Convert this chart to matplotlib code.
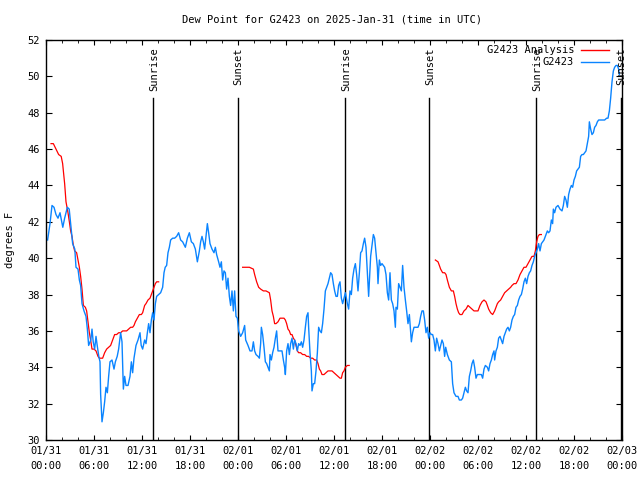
import matplotlib
matplotlib.use("Agg")
import matplotlib.pyplot as plt

plt.rcParams['font.family'] = ['DejaVu Sans Mono']
plt.rcParams['font.size'] = 7.5

title = "Dew Point for G2423 on 2025-Jan-31 (time in UTC)"

# hours since 01/31 00:00 UTC
tick_hours = list(range(0, 73, 6))
tick_labels = ["01/31\n00:00", "01/31\n06:00", "01/31\n12:00", "01/31\n18:00",
               "02/01\n00:00", "02/01\n06:00", "02/01\n12:00", "02/01\n18:00",
               "02/02\n00:00", "02/02\n06:00", "02/02\n12:00", "02/02\n18:00",
               "02/03\n00:00"]

sun_hours = [13.42, 23.96, 37.42, 47.93, 61.3, 71.85]
sun_names = ["Sunrise", "Sunset", "Sunrise", "Sunset", "Sunrise", "Sunset"]

# analysis (red), three runs
analysis_1 = [
    (0.63, 46.3), (0.92, 46.3), (1.25, 46.0), (1.58, 45.7), (1.9, 45.6), (2.08, 45.2),
    (2.17, 44.8), (2.33, 44.1), (2.5, 43.1), (2.75, 42.5), (2.92, 42.0), (3.08, 41.5),
    (3.25, 41.2), (3.42, 40.7), (3.58, 40.4), (3.83, 40.3), (4.0, 39.9), (4.17, 39.5),
    (4.33, 39.0), (4.5, 38.3), (4.67, 37.4), (4.92, 37.3), (5.08, 37.1), (5.25, 36.5),
    (5.42, 35.9), (5.58, 35.5), (5.75, 35.0), (6.0, 35.0), (6.25, 34.9), (6.5, 34.6),
    (6.67, 34.5), (6.83, 34.5), (7.08, 34.5), (7.33, 34.8), (7.58, 35.0), (7.83, 35.1),
    (8.08, 35.2), (8.33, 35.5), (8.58, 35.8), (8.83, 35.8), (9.08, 35.9), (9.33, 35.9),
    (9.58, 36.0), (9.83, 36.0), (10.08, 36.0), (10.33, 36.1), (10.58, 36.2), (10.83, 36.2),
    (11.0, 36.3), (11.17, 36.5), (11.42, 36.7), (11.67, 36.9), (11.92, 36.9), (12.08, 37.0),
    (12.33, 37.4), (12.5, 37.5), (12.75, 37.7), (13.0, 37.8), (13.25, 38.1), (13.5, 38.4),
    (13.67, 38.6), (13.83, 38.7), (14.08, 38.7),
]
analysis_2 = [
    (24.58, 39.5), (25.0, 39.5), (25.42, 39.5), (25.92, 39.4), (26.08, 39.1), (26.33, 38.7),
    (26.58, 38.4), (26.83, 38.3), (27.17, 38.2), (27.5, 38.2), (27.92, 38.1), (28.08, 37.7),
    (28.25, 37.1), (28.42, 36.8), (28.58, 36.4), (28.75, 36.4), (29.0, 36.5), (29.25, 36.7),
    (29.5, 36.7), (29.75, 36.7), (29.92, 36.6), (30.08, 36.4), (30.25, 36.1), (30.42, 36.0),
    (30.58, 35.8), (30.75, 35.8), (30.92, 35.6), (31.08, 35.5), (31.25, 35.2), (31.42, 34.9),
    (31.58, 34.8), (31.83, 34.8), (32.08, 34.7), (32.33, 34.7), (32.58, 34.6), (32.83, 34.6),
    (33.08, 34.5), (33.33, 34.5), (33.58, 34.4), (33.83, 34.4), (34.0, 34.2), (34.17, 33.9),
    (34.33, 33.8), (34.5, 33.6), (34.75, 33.6), (35.0, 33.7), (35.25, 33.8), (35.5, 33.8),
    (35.75, 33.8), (36.0, 33.7), (36.25, 33.6), (36.5, 33.5), (36.75, 33.4), (36.92, 33.4),
    (37.08, 33.7), (37.25, 33.8), (37.42, 34.0), (37.67, 34.1), (37.9, 34.1),
]
analysis_3 = [
    (48.67, 39.9), (49.0, 39.8), (49.17, 39.6), (49.33, 39.4), (49.58, 39.2), (49.83, 39.2),
    (50.0, 39.1), (50.17, 38.8), (50.42, 38.4), (50.67, 38.2), (50.92, 38.2), (51.08, 37.9),
    (51.25, 37.5), (51.42, 37.2), (51.58, 37.0), (51.75, 36.9), (52.0, 36.9), (52.25, 37.1),
    (52.5, 37.2), (52.75, 37.4), (53.0, 37.3), (53.25, 37.2), (53.5, 37.1), (53.75, 37.1),
    (54.0, 37.1), (54.25, 37.4), (54.5, 37.6), (54.75, 37.7), (55.0, 37.6), (55.17, 37.4),
    (55.33, 37.2), (55.58, 37.0), (55.83, 36.9), (56.08, 37.1), (56.25, 37.3), (56.42, 37.5),
    (56.58, 37.6), (56.83, 37.7), (57.08, 37.9), (57.33, 38.1), (57.58, 38.2), (57.83, 38.3),
    (58.08, 38.4), (58.25, 38.5), (58.5, 38.6), (58.75, 38.6), (59.0, 38.8), (59.25, 39.1),
    (59.5, 39.3), (59.75, 39.5), (60.0, 39.5), (60.25, 39.7), (60.5, 39.9), (60.75, 40.1),
    (61.0, 40.1), (61.17, 40.4), (61.33, 40.9), (61.5, 41.2), (61.67, 41.3), (61.92, 41.3),
]

# station observations (blue)
g2423 = [
    (0.2, 41.0), (0.5, 41.9), (0.75, 42.9), (1.0, 42.8), (1.25, 42.4), (1.5, 42.2),
    (1.75, 42.5), (2.1, 41.7), (2.33, 42.2), (2.67, 42.8), (2.9, 42.7), (3.17, 41.5),
    (3.33, 40.8), (3.6, 40.5), (3.75, 39.5), (4.0, 39.4), (4.17, 38.8), (4.33, 38.5),
    (4.5, 37.5), (4.75, 37.1), (5.0, 36.8), (5.17, 36.1), (5.33, 35.2), (5.6, 35.5),
    (5.75, 36.1), (5.9, 35.4), (6.08, 35.0), (6.25, 35.7), (6.4, 35.2), (6.6, 34.6),
    (6.75, 34.3), (6.83, 32.5), (7.0, 31.0), (7.17, 31.5), (7.33, 32.1), (7.5, 32.9),
    (7.67, 32.6), (7.83, 33.5), (8.0, 34.3), (8.25, 34.4), (8.5, 33.9), (8.67, 34.3),
    (8.9, 34.6), (9.08, 35.0), (9.33, 35.9), (9.5, 35.4), (9.67, 32.8), (9.83, 33.5),
    (10.0, 33.0), (10.25, 33.0), (10.5, 33.5), (10.67, 34.3), (10.83, 33.7), (11.0, 34.5),
    (11.25, 35.2), (11.5, 35.5), (11.75, 35.9), (11.9, 35.2), (12.08, 35.0), (12.33, 35.5),
    (12.5, 35.3), (12.67, 35.9), (12.83, 36.4), (13.0, 35.9), (13.17, 36.6), (13.33, 37.0),
    (13.5, 36.6), (13.67, 37.5), (13.83, 37.9), (14.08, 38.0), (14.33, 38.1), (14.58, 38.4),
    (14.75, 39.2), (14.9, 39.5), (15.08, 39.6), (15.25, 40.3), (15.42, 40.6), (15.58, 41.0),
    (15.83, 41.1), (16.08, 41.1), (16.33, 41.2), (16.58, 41.4), (16.83, 41.0), (17.08, 40.9),
    (17.42, 40.6), (17.67, 41.1), (17.92, 41.4), (18.17, 40.9), (18.42, 40.8), (18.67, 40.5),
    (18.92, 39.8), (19.17, 40.4), (19.33, 40.9), (19.5, 41.2), (19.67, 40.9), (19.83, 40.5),
    (20.0, 41.2), (20.17, 41.9), (20.33, 41.4), (20.5, 40.8), (20.75, 40.5), (21.0, 40.3),
    (21.17, 40.6), (21.33, 40.2), (21.58, 39.8), (21.75, 39.5), (21.92, 39.8), (22.08, 38.8),
    (22.25, 39.3), (22.42, 39.2), (22.58, 38.3), (22.75, 38.9), (22.92, 37.9), (23.08, 37.4),
    (23.25, 38.2), (23.42, 37.1), (23.58, 38.2), (23.75, 36.8), (23.92, 36.7), (24.08, 36.0),
    (24.33, 35.7), (24.58, 35.9), (24.83, 36.3), (24.96, 35.5), (25.25, 35.2), (25.5, 34.9),
    (25.75, 34.9), (25.92, 35.4), (26.08, 34.9), (26.25, 34.7), (26.5, 34.6), (26.67, 34.5),
    (26.83, 35.3), (26.92, 36.2), (27.08, 35.8), (27.25, 35.1), (27.42, 34.3), (27.58, 34.2),
    (27.75, 34.0), (27.92, 33.8), (28.0, 34.7), (28.17, 34.4), (28.33, 34.8), (28.5, 35.1),
    (28.67, 35.6), (28.83, 36.0), (29.0, 34.9), (29.25, 34.9), (29.5, 34.9), (29.67, 34.4),
    (29.83, 34.0), (29.92, 33.6), (30.08, 34.9), (30.25, 35.3), (30.42, 34.7), (30.58, 35.3),
    (30.75, 35.6), (30.92, 35.0), (31.08, 35.5), (31.25, 35.3), (31.42, 34.9), (31.58, 35.3),
    (31.75, 35.2), (31.92, 35.4), (32.08, 35.1), (32.25, 35.5), (32.42, 36.2), (32.58, 36.8),
    (32.75, 37.0), (32.83, 36.2), (33.0, 34.8), (33.17, 33.8), (33.25, 32.7), (33.42, 33.1),
    (33.58, 33.1), (33.75, 33.8), (33.92, 34.8), (34.08, 36.2), (34.25, 36.0), (34.42, 35.9),
    (34.58, 36.4), (34.75, 37.2), (34.92, 38.2), (35.08, 38.4), (35.25, 38.6), (35.42, 38.9),
    (35.58, 39.2), (35.75, 39.1), (35.92, 38.6), (36.08, 38.2), (36.25, 37.9), (36.42, 37.9),
    (36.58, 38.5), (36.75, 38.7), (36.92, 37.8), (37.08, 37.5), (37.25, 37.8), (37.42, 38.1),
    (37.5, 37.9), (37.67, 37.5), (37.83, 37.2), (38.0, 38.2), (38.17, 38.0), (38.33, 38.9),
    (38.5, 39.4), (38.67, 39.7), (38.83, 39.1), (39.0, 38.2), (39.17, 39.2), (39.33, 40.3),
    (39.5, 40.4), (39.67, 40.8), (39.83, 41.1), (40.0, 40.6), (40.17, 39.2), (40.33, 37.9),
    (40.42, 38.7), (40.58, 40.1), (40.75, 40.7), (40.92, 41.3), (41.08, 41.1), (41.25, 40.3),
    (41.42, 39.5), (41.5, 38.6), (41.67, 39.9), (41.83, 39.6), (42.0, 39.7), (42.17, 39.6),
    (42.33, 39.5), (42.5, 39.1), (42.67, 38.1), (42.83, 37.7), (43.0, 39.2), (43.17, 37.7),
    (43.33, 37.5), (43.5, 37.1), (43.67, 36.2), (43.75, 37.3), (43.92, 37.2), (44.08, 38.6),
    (44.25, 38.4), (44.42, 38.2), (44.58, 39.6), (44.75, 38.4), (44.92, 37.7), (45.08, 37.1),
    (45.25, 36.4), (45.42, 36.9), (45.58, 35.9), (45.67, 35.4), (45.83, 35.9), (46.0, 36.2),
    (46.25, 36.2), (46.5, 36.2), (46.67, 36.4), (46.83, 36.8), (47.0, 37.1), (47.17, 37.1),
    (47.33, 36.6), (47.5, 35.9), (47.67, 36.2), (47.83, 35.6), (48.0, 35.9), (48.17, 35.8),
    (48.33, 35.8), (48.5, 35.5), (48.67, 34.9), (48.83, 35.6), (49.0, 35.3), (49.17, 34.9),
    (49.33, 35.2), (49.5, 35.5), (49.67, 35.3), (49.83, 34.6), (49.96, 35.1), (50.17, 34.7),
    (50.42, 34.4), (50.67, 34.3), (50.83, 33.1), (51.0, 32.6), (51.25, 32.4), (51.5, 32.4),
    (51.67, 32.2), (51.92, 32.2), (52.08, 32.3), (52.25, 32.6), (52.42, 32.9), (52.58, 32.7),
    (52.75, 32.6), (52.92, 33.5), (53.08, 33.8), (53.25, 34.2), (53.42, 34.4), (53.58, 34.0),
    (53.75, 33.4), (53.92, 33.6), (54.17, 33.6), (54.42, 33.6), (54.58, 33.4), (54.75, 33.9),
    (54.92, 34.1), (55.17, 34.0), (55.33, 33.8), (55.5, 34.2), (55.67, 34.4), (55.83, 34.7),
    (56.0, 34.9), (56.08, 34.4), (56.25, 34.9), (56.42, 35.1), (56.58, 35.6), (56.75, 35.7),
    (56.92, 35.5), (57.08, 35.3), (57.25, 35.7), (57.42, 35.9), (57.58, 36.1), (57.75, 36.2),
    (57.92, 36.0), (58.08, 36.2), (58.25, 36.6), (58.42, 36.8), (58.58, 36.9), (58.75, 37.3),
    (58.92, 37.4), (59.08, 37.7), (59.25, 37.9), (59.42, 38.0), (59.58, 38.3), (59.75, 38.7),
    (59.92, 38.9), (60.08, 38.6), (60.25, 39.0), (60.42, 39.2), (60.58, 39.3), (60.75, 39.6),
    (60.92, 39.8), (61.08, 40.1), (61.25, 40.3), (61.42, 40.5), (61.58, 40.8), (61.75, 40.4),
    (61.92, 40.8), (62.08, 40.9), (62.25, 41.0), (62.42, 41.2), (62.67, 41.5), (62.83, 41.4),
    (63.0, 41.5), (63.17, 42.1), (63.33, 41.9), (63.42, 42.7), (63.58, 42.5), (63.75, 42.8),
    (64.0, 42.9), (64.25, 42.7), (64.5, 42.6), (64.67, 42.9), (64.83, 43.4), (65.0, 43.2),
    (65.17, 42.8), (65.33, 43.5), (65.5, 43.8), (65.67, 44.0), (65.83, 43.9), (66.0, 44.3),
    (66.17, 44.5), (66.33, 44.8), (66.5, 44.9), (66.67, 45.0), (66.83, 45.6), (67.0, 45.7),
    (67.17, 45.7), (67.33, 45.8), (67.5, 45.9), (67.67, 46.3), (67.83, 46.7), (67.92, 47.5),
    (68.08, 47.1), (68.25, 46.8), (68.42, 46.9), (68.58, 47.2), (68.75, 47.3), (68.92, 47.5),
    (69.08, 47.6), (69.33, 47.6), (69.58, 47.6), (69.83, 47.6), (70.08, 47.7), (70.25, 47.7),
    (70.42, 48.1), (70.58, 48.8), (70.75, 49.7), (70.92, 50.3), (71.08, 50.5), (71.25, 50.6),
    (71.42, 50.6), (71.58, 50.4), (71.67, 50.1),
]

red = '#ff0000'
blue = '#0a84ff'

fig = plt.figure(figsize=(6.4, 4.8), dpi=100)
ax = fig.add_axes([46 / 640, 40 / 480, 576 / 640, 400 / 480])

# sunrise / sunset markers
for h, name in zip(sun_hours, sun_names):
    ax.axvline(h, ymin=0, ymax=0.855, color='black', lw=1.0)
    ax.text(h + 0.1, 51.6, name, rotation=90, ha='center', va='top', fontsize=7.5)

for seg in (analysis_1, analysis_2, analysis_3):
    xs, ys = zip(*seg)
    ax.plot(xs, ys, color=red, lw=0.9)

xs, ys = zip(*g2423)
ax.plot(xs, ys, color=blue, lw=1.0)

ax.set_xlim(0, 72)
ax.set_ylim(30, 52)
ax.set_xticks(tick_hours)
ax.set_xticklabels(tick_labels)
ax.set_xticks(range(0, 73, 2), minor=True)
ax.set_yticks(range(30, 53, 2))
for lab in ax.get_xticklabels():
    lab.set_linespacing(1.55)
ax.tick_params(axis='both', which='both', direction='in', top=True, right=True)
ax.tick_params(axis='y', which='major', length=4.3, pad=4.5)
ax.tick_params(axis='x', which='major', length=3.6, pad=4.5)
ax.tick_params(axis='x', which='minor', length=2.2)
for s in ax.spines.values():
    s.set_linewidth(1.0)

# legend, gnuplot style (text right-aligned, sample to the right)
legend_rows = [("G2423 Analysis", red, 0.975), ("G2423", blue, 0.944)]
for label, col, yy in legend_rows:
    ax.text(0.9167, yy, label, transform=ax.transAxes, ha='right', va='center')
    ax.plot([0.929, 0.977], [yy, yy], color=col, lw=1.0, transform=ax.transAxes)

fig.text(332 / 640, 1 - 19 / 480, title, ha='center', va='center')
fig.text(10 / 640, 0.5, "degrees F", rotation=90, ha='center', va='center')

fig.savefig('out.png', dpi=100)
